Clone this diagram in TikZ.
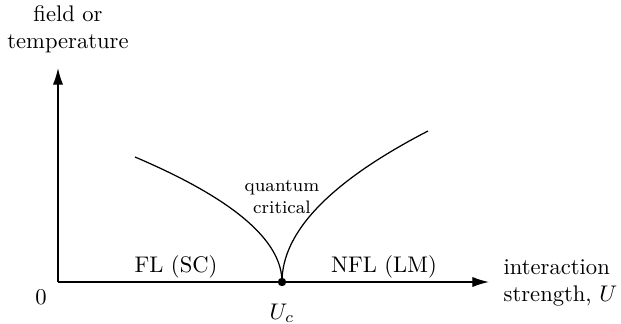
\documentclass[tikz,border=0pt]{standalone}
\usepackage{amsmath,amssymb}
\usepackage{xcolor}
\usepackage{tikz}
\usetikzlibrary{arrows.meta,positioning,calc}

\begin{document}
\begin{tikzpicture}[
          x=0.4428pt, y=-0.4428pt,
          every node/.style={font=\normalsize, inner sep=1pt},
          axis/.style={-{Latex[length=2.6mm,width=1.6mm]}, line width=0.6pt},
          crossover/.style={line width=0.55pt},
          regionlabel/.style={align=center},
          smalllabel/.style={font=\footnotesize, align=center, inner sep=0pt}
      ]
        \useasboundingbox (0,0) rectangle (621,324);

        \coordinate (origin) at (58,282);
        \coordinate (ytip) at (58,68);
        \coordinate (xtip) at (489,282);
        \coordinate (uc) at (282,282);
        \coordinate (lend) at (135,157);
        \coordinate (rend) at (428,131);

        % axes
        \draw[axis] (origin) -- (ytip);
        \draw[axis] (origin) -- (xtip);

        % crossover lines
        \draw[crossover] (uc) .. controls (282,240.3) and (233,198.7) .. (lend);
        \draw[crossover] (uc) .. controls (282,231.7) and (330.7,181.3) .. (rend);
        \fill (uc) circle (4.2);

        \node[regionlabel] (ylab) at (68,29) {field or\\temperature};
        \node[regionlabel, anchor=west, align=left] (xlab) at (501,283) {interaction\\strength, $U$};
        \node (zero) at (41,297) {0};
        \node (uclab) at (282,313) {$U_c$};
        \node (fl) at (176,267) {FL (SC)};
        \node (nfl) at (384,267) {NFL (LM)};
        \node[smalllabel] (qc) at (282,197) {quantum\\critical};
      \end{tikzpicture}
\end{document}
